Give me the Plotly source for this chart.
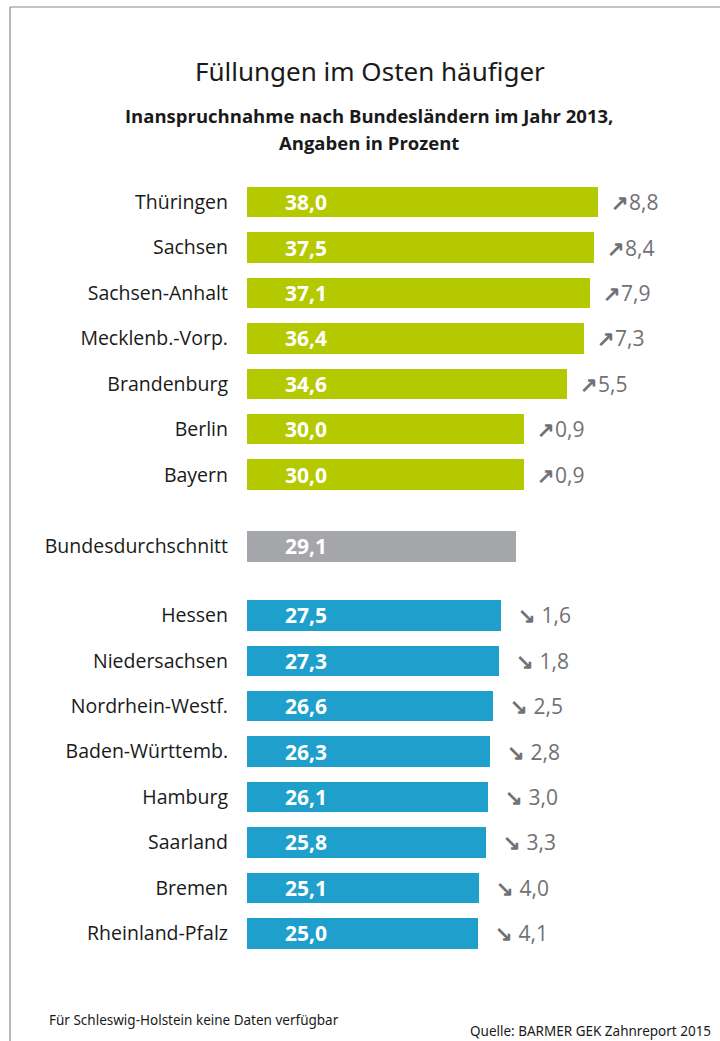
import plotly.graph_objects as go

states = ["Thüringen", "Sachsen", "Sachsen-Anhalt", "Mecklenb.-Vorp.", "Brandenburg",
          "Berlin", "Bayern", "Bundesdurchschnitt", "Hessen", "Niedersachsen",
          "Nordrhein-Westf.", "Baden-Württemb.", "Hamburg", "Saarland", "Bremen",
          "Rheinland-Pfalz"]
values = [38.0, 37.5, 37.1, 36.4, 34.6, 30.0, 30.0, 29.1, 27.5, 27.3, 26.6, 26.3,
          26.1, 25.8, 25.1, 25.0]
diffs = [8.8, 8.4, 7.9, 7.3, 5.5, 0.9, 0.9, None, -1.6, -1.8, -2.5, -2.8, -3.0,
         -3.3, -4.0, -4.1]
groups = ["east"] * 7 + ["avg"] + ["west"] * 8

# row positions (with gaps around the average bar)
ypos = [0, 1, 2, 3, 4, 5, 6, 7.58, 9.1, 10.1, 11.1, 12.1, 13.1, 14.1, 15.1, 16.1]

colors = {"east": "#b5c900", "avg": "#a5a6a9", "west": "#1e9fcc"}

def fmt(v):
    return f"{abs(v):.1f}".replace(".", ",")

fig = go.Figure()
fig.add_trace(go.Bar(
    x=values, y=ypos, orientation="h", width=0.67,
    marker=dict(color=[colors[g] for g in groups], line=dict(width=0)),
    hoverinfo="skip", showlegend=False,
))

annotations = []
for v, y, d in zip(values, ypos, diffs):
    annotations.append(dict(
        x=0, y=y, xref="x", yref="y", text=f"<b>{fmt(v)}</b>", showarrow=False,
        xanchor="left", xshift=36, font=dict(family="Open Sans", size=21, color="white")))
    if d is not None:
        arrow = "↗" if d > 0 else "↘ "
        annotations.append(dict(
            x=v, y=y, xref="x", yref="y",
            text=f"<b>{arrow}</b>{fmt(d)}", showarrow=False,
            xanchor="left", xshift=11 if d > 0 else 15,
            font=dict(family="Open Sans", size=21, color="#707175")))

# paper coordinate helpers (plot area x:247..700, y:175..956)
def px(xp):
    return (xp - 247) / 453.0

def py(yp):
    return (956 - yp) / 781.0

annotations += [
    dict(x=px(370), y=py(71), xref="paper", yref="paper", text="Füllungen im Osten häufiger",
         showarrow=False, xanchor="center", yanchor="middle",
         font=dict(family="Noto Sans", size=26, color="#1a1a1a")),
    dict(x=px(369), y=py(116), xref="paper", yref="paper",
         text="<b>Inanspruchnahme nach Bundesländern im Jahr 2013,</b>",
         showarrow=False, xanchor="center", yanchor="middle",
         font=dict(family="Open Sans", size=18.5, color="#1a1a1a")),
    dict(x=px(369), y=py(142), xref="paper", yref="paper",
         text="<b>Angaben in Prozent</b>",
         showarrow=False, xanchor="center", yanchor="middle",
         font=dict(family="Open Sans", size=18.5, color="#1a1a1a")),
    dict(x=px(47), y=py(1020), xref="paper", yref="paper",
         text="Für Schleswig-Holstein keine Daten verfügbar",
         showarrow=False, xanchor="left", yanchor="middle",
         font=dict(family="Noto Sans", size=13.5, color="#1a1a1a")),
    dict(x=px(468), y=py(1031), xref="paper", yref="paper",
         text="Quelle: BARMER GEK Zahnreport 2015",
         showarrow=False, xanchor="left", yanchor="middle",
         font=dict(family="Noto Sans", size=13.5, color="#1a1a1a")),
]

shapes = [
    dict(type="line", xref="paper", yref="paper", x0=px(10), x1=px(725), y0=py(7), y1=py(7),
         line=dict(color="#8a8a8a", width=1.2)),
    dict(type="line", xref="paper", yref="paper", x0=px(10), x1=px(10), y0=py(7), y1=py(1045),
         line=dict(color="#8a8a8a", width=1.2)),
]

fig.update_layout(
    width=720, height=1041,
    margin=dict(l=247, r=20, t=175, b=85),
    paper_bgcolor="white", plot_bgcolor="white",
    xaxis=dict(range=[0, 49], visible=False, fixedrange=True),
    yaxis=dict(range=[16.6, -0.6], tickvals=ypos, ticktext=states,
               showgrid=False, zeroline=False, showline=False, ticks="",
               ticklabelstandoff=18, fixedrange=True,
               tickfont=dict(family="Open Sans", size=19.5, color="#1a1a1a")),
    annotations=annotations, shapes=shapes,
    bargap=0,
)

fig.write_html("out.html", config={"displayModeBar": False},
               post_script="document.body.style.margin='0';document.body.style.overflow='hidden';")
